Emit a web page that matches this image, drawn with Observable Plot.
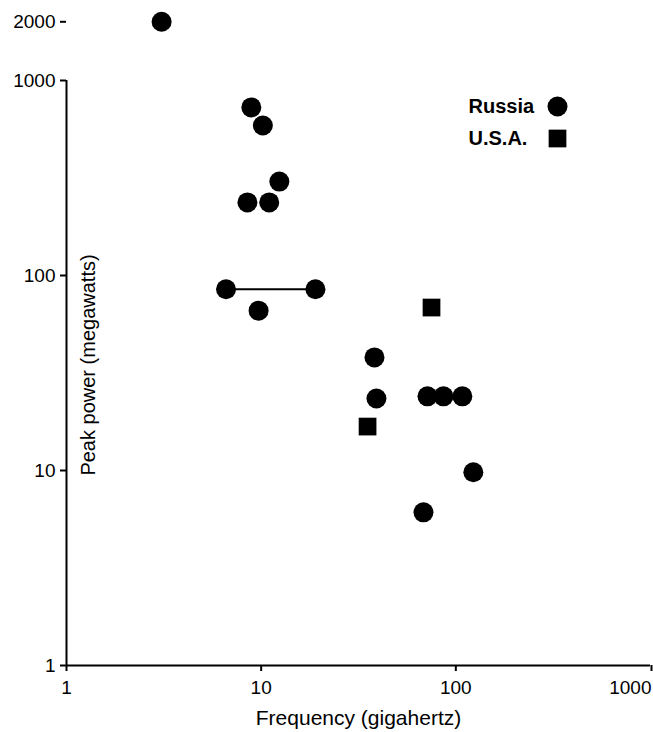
<!DOCTYPE html>
<html><head><meta charset="utf-8">
<script src="https://cdn.jsdelivr.net/npm/d3@7"></script>
<script src="https://cdn.jsdelivr.net/npm/@observablehq/plot@0.6"></script>
<style>body{margin:0;background:#fff}</style>
</head><body><div id="chart"></div>
<script>
const seriesNames = ["Russia", "U.S.A."];
const russiaFreq  = [3.08, 8.9, 10.2, 12.4, 8.5, 11.0, 6.6, 19.0, 9.7, 38.2, 39.1, 71.5, 86.4, 108, 123, 68.2];
const russiaPower = [2000, 728, 588, 303, 237, 237, 85, 85, 66, 38, 23.4, 24, 24, 24, 9.8, 6.1];
const usaFreq  = [75, 35.2];
const usaPower = [68.5, 16.8];
const linkedFreq  = [6.6, 19.0];
const linkedPower = [85, 85];
const xTicks = [1, 10, 100, 1000];
const yTicks = [1, 10, 100, 1000, 2000];
const xTitle = "Frequency (gigahertz)";
const yTitle = "Peak power (megawatts)";

const points = [
  ...russiaFreq.map((f, i) => ({series: seriesNames[0], freq: f, power: russiaPower[i]})),
  ...usaFreq.map((f, i) => ({series: seriesNames[1], freq: f, power: usaPower[i]}))
];
const links = [{x1: linkedFreq[0], x2: linkedFreq[1], y1: linkedPower[0], y2: linkedPower[1]}];
const lastX = xTicks[xTicks.length - 1];

const font = "'Liberation Sans', Arial, Helvetica, sans-serif";
const chart = Plot.plot({
  width: 653, height: 732,
  marginLeft: 66, marginRight: 3, marginTop: 80, marginBottom: 67,
  style: {fontFamily: font, fontSize: "19px", color: "#000", background: "#fff"},
  x: {type: "log", domain: [1, 1000]},
  y: {type: "log", domain: [1, 1000]},
  symbol: {domain: seriesNames, range: ["circle", "square"]},
  marks: [
    Plot.axisX({ticks: xTicks.filter(d => d !== lastX), tickFormat: d => String(d), tickSize: 6, tickPadding: 9, strokeWidth: 2, label: null, fontSize: 19}),
    Plot.axisX({ticks: [lastX], tickFormat: d => String(d), tickSize: 6, tickPadding: 9, strokeWidth: 2, label: null, fontSize: 19, textAnchor: "end", dx: 1}),
    Plot.axisY({ticks: yTicks, tickFormat: d => String(d), tickSize: 6, tickPadding: 5, strokeWidth: 2, label: null, fontSize: 19}),
    Plot.ruleX([1], {y1: 1, y2: 1000, strokeWidth: 2}),
    Plot.ruleY([1], {x1: 1, x2: 1000, strokeWidth: 2}),
    Plot.link(links, {x1: "x1", x2: "x2", y1: "y1", y2: "y2", stroke: "black", strokeWidth: 2}),
    Plot.dot(points, {x: "freq", y: "power", symbol: "series", r: 10, fill: "black", stroke: null}),
    Plot.text([xTitle], {frameAnchor: "bottom", lineAnchor: "middle", textAnchor: "middle", dy: 53, fontSize: 21}),
    Plot.text([yTitle], {frameAnchor: "left", lineAnchor: "middle", textAnchor: "middle", rotate: -90, dx: 22, dy: -8, fontSize: 20}),
    ...seriesNames.flatMap((name, i) => [
      Plot.text([name], {frameAnchor: "top-right", lineAnchor: "middle", dx: -182, dy: 26 + 32 * i, textAnchor: "start", fontWeight: "bold", fontSize: 20}),
      Plot.dot([name], {frameAnchor: "top-right", dx: -93, dy: 26 + 32 * i, symbol: d => d, r: 10, fill: "black", stroke: null})
    ])
  ]
});
document.getElementById("chart").append(chart);
</script>
</body></html>
